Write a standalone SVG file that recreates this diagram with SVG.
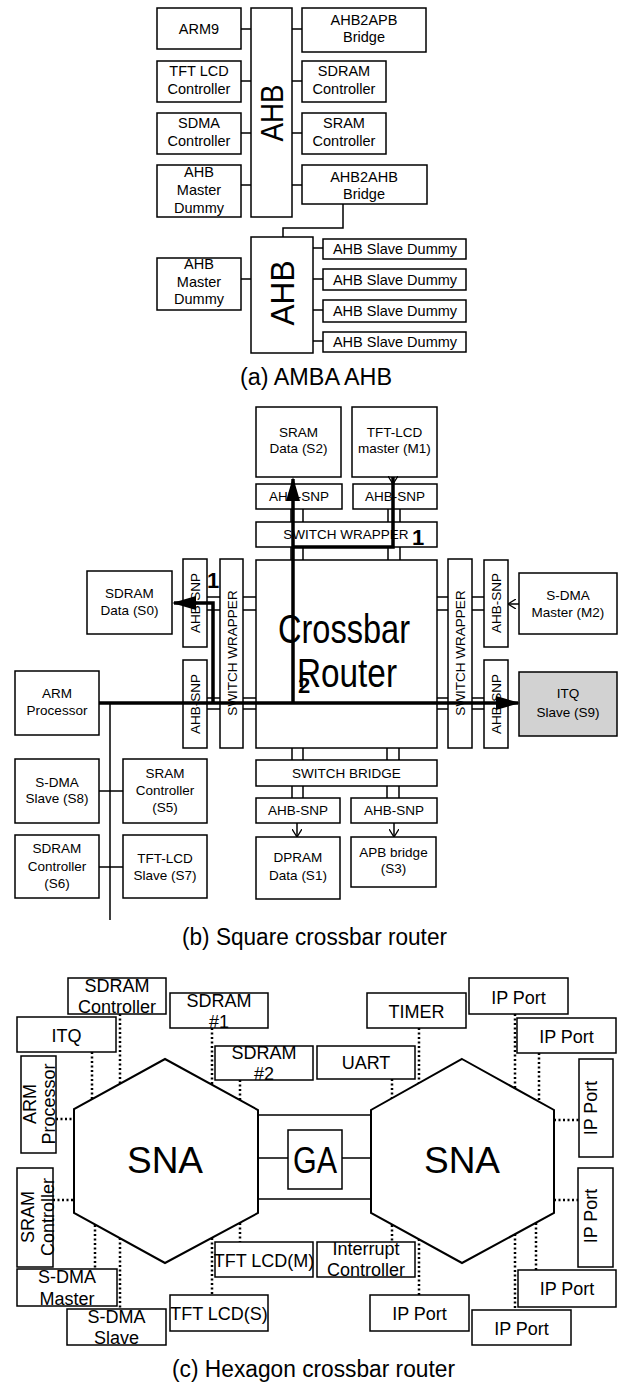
<svg xmlns="http://www.w3.org/2000/svg" width="624" height="1385" viewBox="0 0 624 1385">
<style>
.b{fill:#fff;stroke:#000;stroke-width:1.5}
.g{fill:#d2d2d2;stroke:#000;stroke-width:1.5}
.hx{fill:#fff;stroke:#000;stroke-width:2}
text{font-family:"Liberation Sans",Arial,sans-serif;fill:#000;text-anchor:middle}
.ta{font-size:14.5px}
.tb{font-size:13.5px}
.tc{font-size:18px}
.cap{font-size:23px}
.big{font-size:40px}
.num{font-size:22px;font-weight:bold}
.ln{stroke:#000;stroke-width:1.5;fill:none}
.thk{stroke:#000;stroke-width:3.5;fill:none}
.dot{stroke:#000;stroke-width:2.5;stroke-dasharray:2 2.5;fill:none}
</style>
<defs>
<marker id="fa" viewBox="0 0 24 14" refX="22" refY="7" markerWidth="24" markerHeight="14" markerUnits="userSpaceOnUse" orient="auto"><path d="M0,0 L24,7 L0,14 z" fill="#000"/></marker>
<marker id="oa" viewBox="0 0 8 10" refX="8" refY="5" markerWidth="8" markerHeight="10" markerUnits="userSpaceOnUse" orient="auto"><path d="M0,0 L8,5 L0,10" fill="none" stroke="#000" stroke-width="1.3"/></marker>
</defs>
<rect width="624" height="1385" fill="#fff"/>

<!-- (a) AMBA AHB -->
<g id="a-arm9"><rect class="b" x="157" y="8" width="84" height="41"/><text class="ta" x="199" y="34">ARM9</text></g>
<g id="a-tftlcd"><rect class="b" x="157" y="61" width="84" height="41"/><text class="ta" x="199" y="76">TFT LCD</text><text class="ta" x="199" y="94">Controller</text></g>
<g id="a-sdma"><rect class="b" x="157" y="113" width="84" height="41"/><text class="ta" x="199" y="128">SDMA</text><text class="ta" x="199" y="146">Controller</text></g>
<g id="a-amd1"><rect class="b" x="157" y="165" width="84" height="52"/><text class="ta" x="199" y="177">AHB</text><text class="ta" x="199" y="195">Master</text><text class="ta" x="199" y="213">Dummy</text></g>
<g id="a-ahb1"><rect class="b" x="251" y="8" width="41" height="209"/><text transform="translate(283,113) rotate(-90)" font-size="32" textLength="57" lengthAdjust="spacingAndGlyphs">AHB</text></g>
<g id="a-apb"><rect class="b" x="302" y="8" width="124" height="44"/><text class="ta" x="364" y="25">AHB2APB</text><text class="ta" x="364" y="42">Bridge</text></g>
<g id="a-sdram"><rect class="b" x="302" y="61" width="84" height="41"/><text class="ta" x="344" y="76">SDRAM</text><text class="ta" x="344" y="94">Controller</text></g>
<g id="a-sram"><rect class="b" x="302" y="113" width="84" height="41"/><text class="ta" x="344" y="128">SRAM</text><text class="ta" x="344" y="146">Controller</text></g>
<g id="a-a2a"><rect class="b" x="302" y="165" width="125" height="39"/><text class="ta" x="364" y="182">AHB2AHB</text><text class="ta" x="364" y="199">Bridge</text></g>
<g id="a-ahb2"><rect class="b" x="251" y="237" width="62" height="116"/><text transform="translate(294,293) rotate(-90)" font-size="34" textLength="65" lengthAdjust="spacingAndGlyphs">AHB</text></g>
<g id="a-amd2"><rect class="b" x="157" y="258" width="84" height="52"/><text class="ta" x="199" y="269">AHB</text><text class="ta" x="199" y="287">Master</text><text class="ta" x="199" y="304">Dummy</text></g>
<g id="a-sd1"><rect class="b" x="323" y="239" width="143" height="20"/><text class="ta" x="395" y="254">AHB Slave Dummy</text></g>
<g id="a-sd2"><rect class="b" x="323" y="269" width="143" height="21"/><text class="ta" x="395" y="284.5">AHB Slave Dummy</text></g>
<g id="a-sd3"><rect class="b" x="323" y="300" width="143" height="22"/><text class="ta" x="395" y="316">AHB Slave Dummy</text></g>
<g id="a-sd4"><rect class="b" x="323" y="332" width="143" height="20"/><text class="ta" x="395" y="347">AHB Slave Dummy</text></g>
<g id="a-connectors">
<path class="ln" d="M241,29H251M241,81H251M241,133H251M241,185H251M292,29H302M292,81H302M292,133H302M292,185H302M343,204V228H283V237M241,279H251M313,248H323M313,279H323M313,310H323M313,341H323"/>
</g>
<text class="cap" x="316" y="385" font-size="26" textLength="152" lengthAdjust="spacingAndGlyphs">(a) AMBA AHB</text>

<!-- (b) Square crossbar router -->
<g id="b-s2"><rect class="b" x="256" y="407" width="85" height="70"/><text class="tb" x="298.5" y="437">SRAM</text><text class="tb" x="298.5" y="453">Data (S2)</text></g>
<g id="b-m1"><rect class="b" x="352" y="407" width="85" height="70"/><text class="tb" x="394.5" y="437">TFT-LCD</text><text class="tb" x="394.5" y="453">master (M1)</text></g>
<g id="b-snp-t1"><rect class="b" x="256" y="484" width="86" height="25"/><text class="tb" x="299" y="501">AHB-SNP</text></g>
<g id="b-snp-t2"><rect class="b" x="353" y="484" width="84" height="25"/><text class="tb" x="395" y="501">AHB-SNP</text></g>
<g id="b-sw-top"><rect class="b" x="256" y="522" width="181" height="25"/><text class="tb" x="346" y="539">SWITCH WRAPPER</text></g>
<g id="b-xbar"><rect class="b" x="256" y="560" width="181" height="188"/><text class="big" x="344" y="643" textLength="132" lengthAdjust="spacingAndGlyphs">Crossbar</text><text class="big" x="347" y="687" textLength="100" lengthAdjust="spacingAndGlyphs">Router</text></g>
<g id="b-snp-l1"><rect class="b" x="183" y="559" width="24" height="88"/><text class="tb" transform="translate(200,603) rotate(-90)">AHB-SNP</text></g>
<g id="b-snp-l2"><rect class="b" x="183" y="660" width="24" height="88"/><text class="tb" transform="translate(200,704) rotate(-90)">AHB-SNP</text></g>
<g id="b-sw-left"><rect class="b" x="220" y="559" width="23" height="189"/><text class="tb" transform="translate(236.5,653) rotate(-90)">SWITCH WRAPPER</text></g>
<g id="b-sw-right"><rect class="b" x="448" y="559" width="24" height="189"/><text class="tb" transform="translate(465,653) rotate(-90)">SWITCH WRAPPER</text></g>
<g id="b-snp-r1"><rect class="b" x="484" y="560" width="24" height="87"/><text class="tb" transform="translate(501,603) rotate(-90)">AHB-SNP</text></g>
<g id="b-snp-r2"><rect class="b" x="484" y="660" width="24" height="88"/><text class="tb" transform="translate(501,704) rotate(-90)">AHB-SNP</text></g>
<g id="b-s0"><rect class="b" x="87" y="571" width="85" height="63"/><text class="tb" x="129.5" y="598">SDRAM</text><text class="tb" x="129.5" y="615">Data (S0)</text></g>
<g id="b-m2"><rect class="b" x="519" y="573" width="98" height="61"/><text class="tb" x="568" y="600">S-DMA</text><text class="tb" x="568" y="617">Master (M2)</text></g>
<g id="b-arm"><rect class="b" x="15" y="671" width="84" height="64"/><text class="tb" x="57" y="698">ARM</text><text class="tb" x="57" y="715">Processor</text></g>
<g id="b-s9"><rect class="g" x="519" y="672" width="98" height="64"/><text class="tb" x="568" y="698">ITQ</text><text class="tb" x="568" y="717">Slave (S9)</text></g>
<g id="b-s8"><rect class="b" x="15" y="759" width="84" height="64"/><text class="tb" x="57" y="787">S-DMA</text><text class="tb" x="57" y="803">Slave (S8)</text></g>
<g id="b-s5"><rect class="b" x="123" y="759" width="84" height="64"/><text class="tb" x="165" y="778">SRAM</text><text class="tb" x="165" y="795">Controller</text><text class="tb" x="165" y="812">(S5)</text></g>
<g id="b-s6"><rect class="b" x="15" y="835" width="84" height="63"/><text class="tb" x="57" y="853">SDRAM</text><text class="tb" x="57" y="871">Controller</text><text class="tb" x="57" y="888">(S6)</text></g>
<g id="b-s7"><rect class="b" x="123" y="835" width="84" height="63"/><text class="tb" x="165" y="863">TFT-LCD</text><text class="tb" x="165" y="880">Slave (S7)</text></g>
<g id="b-bridge"><rect class="b" x="256" y="760" width="181" height="26"/><text class="tb" x="346.5" y="778">SWITCH BRIDGE</text></g>
<g id="b-snp-b1"><rect class="b" x="256" y="798" width="84" height="25"/><text class="tb" x="298" y="815">AHB-SNP</text></g>
<g id="b-snp-b2"><rect class="b" x="351" y="798" width="86" height="25"/><text class="tb" x="394" y="815">AHB-SNP</text></g>
<g id="b-s1"><rect class="b" x="256" y="837" width="84" height="62"/><text class="tb" x="298" y="862">DPRAM</text><text class="tb" x="298" y="880">Data (S1)</text></g>
<g id="b-s3"><rect class="b" x="351" y="837" width="85" height="50"/><text class="tb" x="393.5" y="857">APB bridge</text><text class="tb" x="393.5" y="873">(S3)</text></g>
<g id="b-connectors">
<path class="ln" d="M291,509V522M303,509V522M388,509V522M400,509V522M291,547V560M303,547V560M388,547V560M400,547V560"/>
<path class="ln" d="M292,748V760M303,748V760M387,748V760M399,748V760M292,786V798M303,786V798M387,786V798M399,786V798"/>
<path class="ln" d="M207,597H220M207,610H220M243,597H256M243,610H256M207,698H220M207,709H220M243,698H256M243,709H256"/>
<path class="ln" d="M437,597H448M437,610H448M472,597H484M472,610H484M437,698H448M437,709H448M472,698H484M472,709H484"/>
<path class="ln" d="M110,703V920M99,791H123M99,867H123"/>
<path class="ln" marker-end="url(#oa)" d="M393,477V484"/>
<path class="ln" marker-end="url(#oa)" d="M519,604H508"/>
<path class="ln" marker-end="url(#oa)" d="M297,823V837"/>
<path class="ln" marker-end="url(#oa)" d="M394,823V837"/>
<path class="thk" d="M393,477V547H293"/>
<path class="thk" marker-end="url(#fa)" d="M293,703V479"/>
<path class="thk" marker-end="url(#fa)" d="M99,703H518"/>
<path class="thk" marker-end="url(#fa)" d="M213,703V603H174"/>
<text class="num" x="418" y="545">1</text>
<text class="num" x="213" y="588">1</text>
<text class="num" x="304" y="693" font-size="26">2</text>
</g>
<text class="cap" x="314.5" y="945" textLength="265" lengthAdjust="spacingAndGlyphs">(b) Square crossbar router</text>

<!-- (c) Hexagon crossbar router -->
<g id="c-hex-l"><polygon class="hx" points="165,1059 258,1110 258,1213 165,1263 74,1213 74,1109"/><text x="165" y="1173" font-size="37">SNA</text></g>
<g id="c-hex-r"><polygon class="hx" points="462,1059 554,1110 554,1213 462,1263 371,1213 371,1110"/><text x="462" y="1173" font-size="37">SNA</text></g>
<g id="c-ga"><rect class="b" x="288" y="1130" width="54" height="59"/><text x="315" y="1173" font-size="37" textLength="44" lengthAdjust="spacingAndGlyphs">GA</text></g>
<g id="c-sdramc"><rect class="b" x="68" y="978" width="98" height="36"/><text class="tc" x="117" y="992">SDRAM</text><text class="tc" x="117" y="1013">Controller</text></g>
<g id="c-sdram1"><rect class="b" x="170" y="993" width="98" height="35"/><text class="tc" x="219" y="1007">SDRAM</text><text class="tc" x="219" y="1028">#1</text></g>
<g id="c-itq"><rect class="b" x="17" y="1017" width="99" height="35"/><text class="tc" x="66.5" y="1042">ITQ</text></g>
<g id="c-sdram2"><rect class="b" x="215" y="1046" width="98" height="34"/><text class="tc" x="264" y="1059">SDRAM</text><text class="tc" x="264" y="1080">#2</text></g>
<g id="c-uart"><rect class="b" x="317" y="1046" width="98" height="33"/><text class="tc" x="366" y="1069">UART</text></g>
<g id="c-timer"><rect class="b" x="367" y="993" width="99" height="35"/><text class="tc" x="416.5" y="1018">TIMER</text></g>
<g id="c-ip1"><rect class="b" x="469" y="978" width="99" height="36"/><text class="tc" x="518.5" y="1004">IP Port</text></g>
<g id="c-ip2"><rect class="b" x="517" y="1018" width="99" height="35"/><text class="tc" x="566.5" y="1043">IP Port</text></g>
<g id="c-arm"><rect class="b" x="21" y="1056" width="35" height="97"/><text class="tc" transform="translate(36,1104) rotate(-90)">ARM</text><text class="tc" transform="translate(55,1104) rotate(-90)">Processor</text></g>
<g id="c-ip3"><rect class="b" x="579" y="1059" width="34" height="98"/><text class="tc" transform="translate(597,1108) rotate(-90)">IP Port</text></g>
<g id="c-ip4"><rect class="b" x="578" y="1168" width="35" height="99"/><text class="tc" transform="translate(597,1216) rotate(-90)">IP Port</text></g>
<g id="c-sramc"><rect class="b" x="17" y="1168" width="36" height="99"/><text class="tc" transform="translate(34,1217) rotate(-90)">SRAM</text><text class="tc" transform="translate(54,1217) rotate(-90)">Controller</text></g>
<g id="c-sdmam"><rect class="b" x="17" y="1269" width="100" height="37"/><text class="tc" x="67" y="1283">S-DMA</text><text class="tc" x="67" y="1305">Master</text></g>
<g id="c-sdmas"><rect class="b" x="67" y="1309" width="99" height="36"/><text class="tc" x="116.5" y="1323">S-DMA</text><text class="tc" x="116.5" y="1344">Slave</text></g>
<g id="c-tftm"><rect class="b" x="215" y="1242" width="98" height="35"/><text class="tc" x="264" y="1267">TFT LCD(M)</text></g>
<g id="c-tfts"><rect class="b" x="170" y="1295" width="98" height="36"/><text class="tc" x="219" y="1320">TFT LCD(S)</text></g>
<g id="c-int"><rect class="b" x="317" y="1242" width="98" height="35"/><text class="tc" x="366" y="1255">Interrupt</text><text class="tc" x="366" y="1276">Controller</text></g>
<g id="c-ip5"><rect class="b" x="370" y="1295" width="99" height="36"/><text class="tc" x="419.5" y="1320">IP Port</text></g>
<g id="c-ip6"><rect class="b" x="472" y="1310" width="99" height="35"/><text class="tc" x="521.5" y="1335">IP Port</text></g>
<g id="c-ip7"><rect class="b" x="518" y="1270" width="98" height="37"/><text class="tc" x="567" y="1295">IP Port</text></g>
<g id="c-connectors">
<path class="ln" stroke-width="2" d="M258,1115H371M258,1199H371M258,1158H288M342,1158H371"/>
<path class="dot" d="M92,1052V1099M120,1014V1084M212,1028V1085M240,1080V1100M56,1119H74M392,1079V1098M419,1028V1083M515,1014V1088M539,1053V1102M554,1120H579M554,1200H578M53,1200H74"/>
<path class="dot" d="M95,1225V1269M120,1238V1309M240,1223V1242M212,1238V1295M392,1225V1242M419,1239V1295M515,1234V1310M536,1223V1270"/>
</g>
<text class="cap" x="313.5" y="1377" textLength="283" lengthAdjust="spacingAndGlyphs">(c) Hexagon crossbar router</text>
</svg>
